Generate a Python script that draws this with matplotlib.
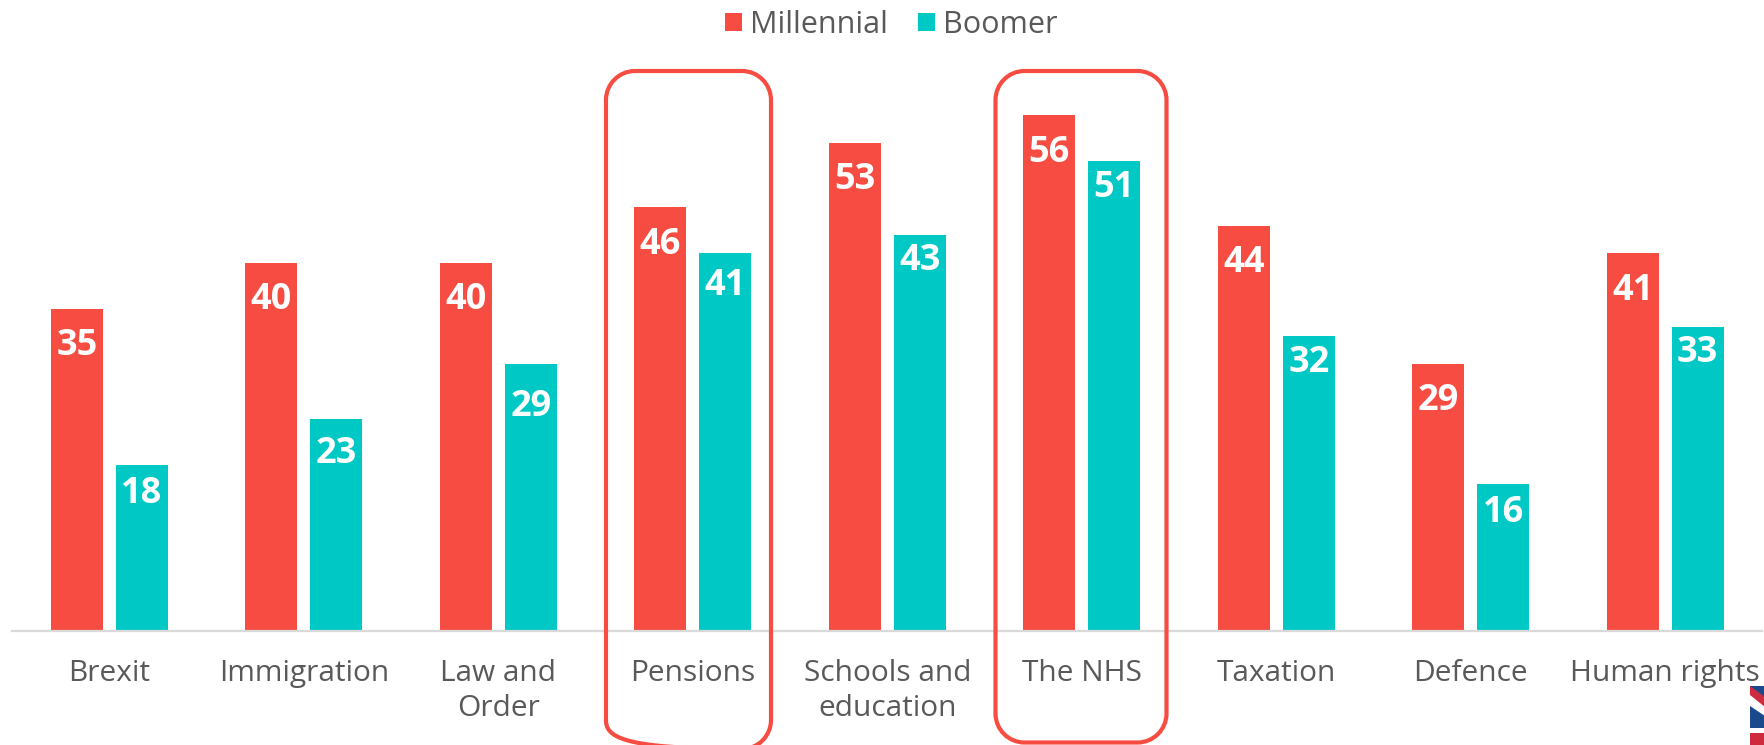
import matplotlib
matplotlib.use("Agg")
import matplotlib.pyplot as plt
from matplotlib.patches import PathPatch, Polygon, Rectangle
from matplotlib.path import Path

categories = ["Brexit", "Immigration", "Law and\nOrder", "Pensions", "Schools and\neducation",
              "The NHS", "Taxation", "Defence", "Human rights"]
millennial = [35, 40, 40, 46, 53, 56, 44, 29, 41]
boomer = [18, 23, 29, 41, 43, 51, 32, 16, 33]

# gap in pixels between bar top and its label (hand placed in the original)
millennial_gap = [21, 21, 21, 21, 21, 21, 21, 21, 21]
boomer_gap = [12, 18, 27, 16, 10, 10, 10, 13, 10]

RED = "#F64C41"
TEAL = "#00C9C5"
TEXT = "#595959"
W, H = 1765, 745
FONT = "Open Sans"

plt.rcParams["font.family"] = [FONT, "DejaVu Sans"]


def round_rect(x0, y0, x1, y1, r):
    # circular corners, FancyBboxPatch's quadratic ones look flat once clipped
    k = r * 0.448
    verts = [(x0 + r, y0), (x1 - r, y0),
             (x1 - k, y0), (x1, y0 + k), (x1, y0 + r),
             (x1, y1 - r),
             (x1, y1 - k), (x1 - k, y1), (x1 - r, y1),
             (x0 + r, y1),
             (x0 + k, y1), (x0, y1 - k), (x0, y1 - r),
             (x0, y0 + r),
             (x0, y0 + k), (x0 + k, y0), (x0 + r, y0)]
    codes = [Path.MOVETO, Path.LINETO,
             Path.CURVE4, Path.CURVE4, Path.CURVE4,
             Path.LINETO,
             Path.CURVE4, Path.CURVE4, Path.CURVE4,
             Path.LINETO,
             Path.CURVE4, Path.CURVE4, Path.CURVE4,
             Path.LINETO,
             Path.CURVE4, Path.CURVE4, Path.CURVE4]
    return Path(verts, codes)


fig = plt.figure(figsize=(W / 100, H / 100), dpi=100)

# axes spans the pixel range of the category band, baseline near y=631
left, right, base = 12.2, 1762.5, 631
ax = fig.add_axes([left / W, (H - base) / H, (right - left) / W, base / H])
ax.set_xlim(-0.5, len(categories) - 0.5)
ax.set_ylim(0, 68.5)

bar_w = 52 / 194.6
off = 32.5 / 194.6
xs = list(range(len(categories)))
b1 = ax.bar([x - off for x in xs], millennial, bar_w, color=RED)
b2 = ax.bar([x + off for x in xs], boomer, bar_w, color=TEAL)

for bars, vals, gaps in ((b1, millennial, millennial_gap), (b2, boomer, boomer_gap)):
    for r, v, g in zip(bars, vals, gaps):
        ax.annotate(str(v), (r.get_x() + r.get_width() / 2, v), xytext=(0, -(g - 1.6) * 0.72),
                    textcoords="offset points", ha="center", va="top", color="white",
                    fontsize=26, fontweight="bold")

for s in ("top", "left", "right"):
    ax.spines[s].set_visible(False)
ax.spines["bottom"].set_color("#D9D9D9")
ax.spines["bottom"].set_linewidth(1.6)
ax.set_yticks([])
ax.set_xticks(xs)
ax.set_xticklabels(categories, fontsize=21.5, color=TEXT, linespacing=1.28)
ax.tick_params(axis="x", length=0, pad=20)

fig.legend(handles=[b1, b2], labels=["Millennial", "Boomer"], loc="upper center",
           bbox_to_anchor=(0.505, 1.024), ncol=2, frameon=False, fontsize=22,
           labelcolor=TEXT, handlelength=0.55, handleheight=0.55, handletextpad=0.25,
           columnspacing=1.0)

# overlay in image pixels for the callout boxes and the clipped flag
ov = fig.add_axes([0, 0, 1, 1], zorder=5)
ov.set_xlim(0, W)
ov.set_ylim(H, 0)
ov.axis("off")
ov.patch.set_alpha(0)

# the Pensions box runs just past the bottom of the picture, the NHS one stops at it
for x0, x1, y1 in ((606, 771, 749), (995.5, 1166.5, 742.5)):
    ov.add_patch(PathPatch(round_rect(x0, 71, x1, y1, 29), fc="none", ec=RED, lw=3.0))

ov.add_patch(Rectangle((1750, 686), 15, 59, fc="#1A4A8C", ec="none"))
ov.add_patch(Rectangle((1750, 728), 15, 5, fc="white", ec="none"))
ov.add_patch(Rectangle((1750, 733), 15, 12, fc="#CE2B3F", ec="none"))
ov.add_patch(Polygon([(1750, 692), (1750, 706), (1765, 716), (1765, 703)], fc="white", ec="none"))
ov.add_patch(Polygon([(1750, 686), (1750, 695), (1765, 707), (1765, 697)], fc="#CE2B3F", ec="none"))

fig.savefig("out.png", dpi=100)
